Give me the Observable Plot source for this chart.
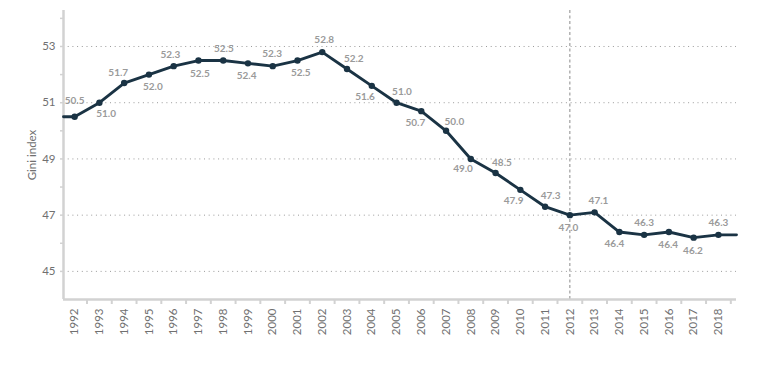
<!DOCTYPE html>
<html><head><meta charset="utf-8">
<script src="https://cdn.jsdelivr.net/npm/d3@7"></script>
<script src="https://cdn.jsdelivr.net/npm/@observablehq/plot@0.6"></script>
<style>body{margin:0;background:#fff;font-family:Lato,"Open Sans",sans-serif}</style>
</head><body><div id="chart"></div>
<script>
const years = [1992,1993,1994,1995,1996,1997,1998,1999,2000,2001,2002,2003,2004,2005,2006,2007,2008,2009,2010,2011,2012,2013,2014,2015,2016,2017,2018];
const gini  = [50.5,51.0,51.7,52.0,52.3,52.5,52.5,52.4,52.3,52.5,52.8,52.2,51.6,51.0,50.7,50.0,49.0,48.5,47.9,47.3,47.0,47.1,46.4,46.3,46.4,46.2,46.3];
const labelSide = [1,-1,1,-1,1,-1,1,-1,1,-1,1,1,-1,1,-1,1,-1,1,-1,1,-1,1,-1,1,-1,-1,1];
const yLabelTicks = [45,47,49,51,53];
const yAllTicks = [45,46,47,48,49,50,51,52,53,54];
const markerYear = 2012;
const yTitle = "Gini index";

const W = 772, H = 368, mL = 63, mR = 36, mT = 10, mB = 69;
const xDomain = [1991.55, 2018.73], yDomain = [44, 54.28];
const xs = d3.scaleLinear(xDomain, [mL, W - mR]);
const ys = d3.scaleLinear(yDomain, [H - mB, mT]);

const points = years.map((yr, i) => ({year: yr, value: gini[i]}));
const lineData = [{year: xDomain[0], value: gini[0]}, ...points, {year: xDomain[1], value: gini[gini.length - 1]}];

// label offsets perpendicular to the local line direction (pixel space), converted back through the scales
const dist = 12;
const labels = points.map((p, i) => {
  const last = i === points.length - 1;
  const prev = i === 0 ? lineData[0] : lineData[i];
  const next = i === 0 ? lineData[1] : (last ? lineData[i + 2] : lineData[i + 2]);
  const a = last ? lineData[i + 1] : prev;
  let dx = xs(next.year) - xs(a.year), dy = ys(next.value) - ys(a.value);
  if (i === 0) { dx = 1; dy = 0; }
  const len = Math.hypot(dx, dy) || 1;
  const nx = dy / len, ny = -dx / len; // upward normal
  const s = labelSide[i];
  const px = xs(p.year) + nx * dist * s;
  const py = ys(p.value) + ny * dist * s + (s < 0 ? 1 : 0) - (i === 0 ? 4 : 0);
  return {x: xs.invert(px), y: ys.invert(py), text: p.value.toFixed(1)};
});

const navy = "#1a3344";
const axisGray = "#d2d2d2";
const font = "Lato, 'Open Sans', sans-serif";

const chart = Plot.plot({
  width: W, height: H,
  marginLeft: mL, marginRight: mR, marginTop: mT, marginBottom: mB,
  style: {fontFamily: font, background: "#fff", overflow: "visible"},
  x: {domain: xDomain, axis: null},
  y: {domain: yDomain, axis: null},
  marks: [
    Plot.gridY(yLabelTicks, {stroke: "#9a9a9a", strokeOpacity: 1, strokeWidth: 1, strokeDasharray: "1,3.7"}),
    Plot.ruleX([markerYear], {stroke: "#8a8a8a", strokeWidth: 1, strokeDasharray: "3,2.5"}),
    Plot.ruleY([yDomain[0]], {stroke: axisGray, strokeWidth: 2.5}),
    Plot.ruleX([xDomain[0]], {stroke: axisGray, strokeWidth: 2.5}),
    Plot.axisY(yAllTicks, {anchor: "left", tickSize: 3, tickFormat: () => "", stroke: axisGray, strokeWidth: 1.5, label: null}),
    Plot.axisY(yLabelTicks, {anchor: "left", tickSize: 0, tickPadding: 8, fontSize: 11.5, fill: "#707070", label: null}),
    Plot.axisX(years.map(y => y + 0.5), {anchor: "bottom", tickSize: 5, tickFormat: () => "", stroke: axisGray, strokeWidth: 2, label: null}),
    Plot.axisX(years, {anchor: "bottom", tickSize: 0, tickPadding: 9, tickRotate: -90, tickFormat: d => String(d), fontSize: 11.5, fill: "#707070", label: null}),
    Plot.text([yTitle], {frameAnchor: "left", dx: -31, rotate: -90, textAnchor: "middle", fontSize: 11.5, fill: "#707070"}),
    Plot.line(lineData, {x: "year", y: "value", stroke: navy, strokeWidth: 2.9, strokeLinejoin: "round"}),
    Plot.dot(points, {x: "year", y: "value", r: 3.2, fill: navy, stroke: "none"}),
    Plot.text(labels, {x: "x", y: "y", text: "text", fill: "#9a9a9a", fontSize: 10, fontWeight: 700})
  ]
});
document.getElementById("chart").appendChild(chart);
</script>
</body></html>
